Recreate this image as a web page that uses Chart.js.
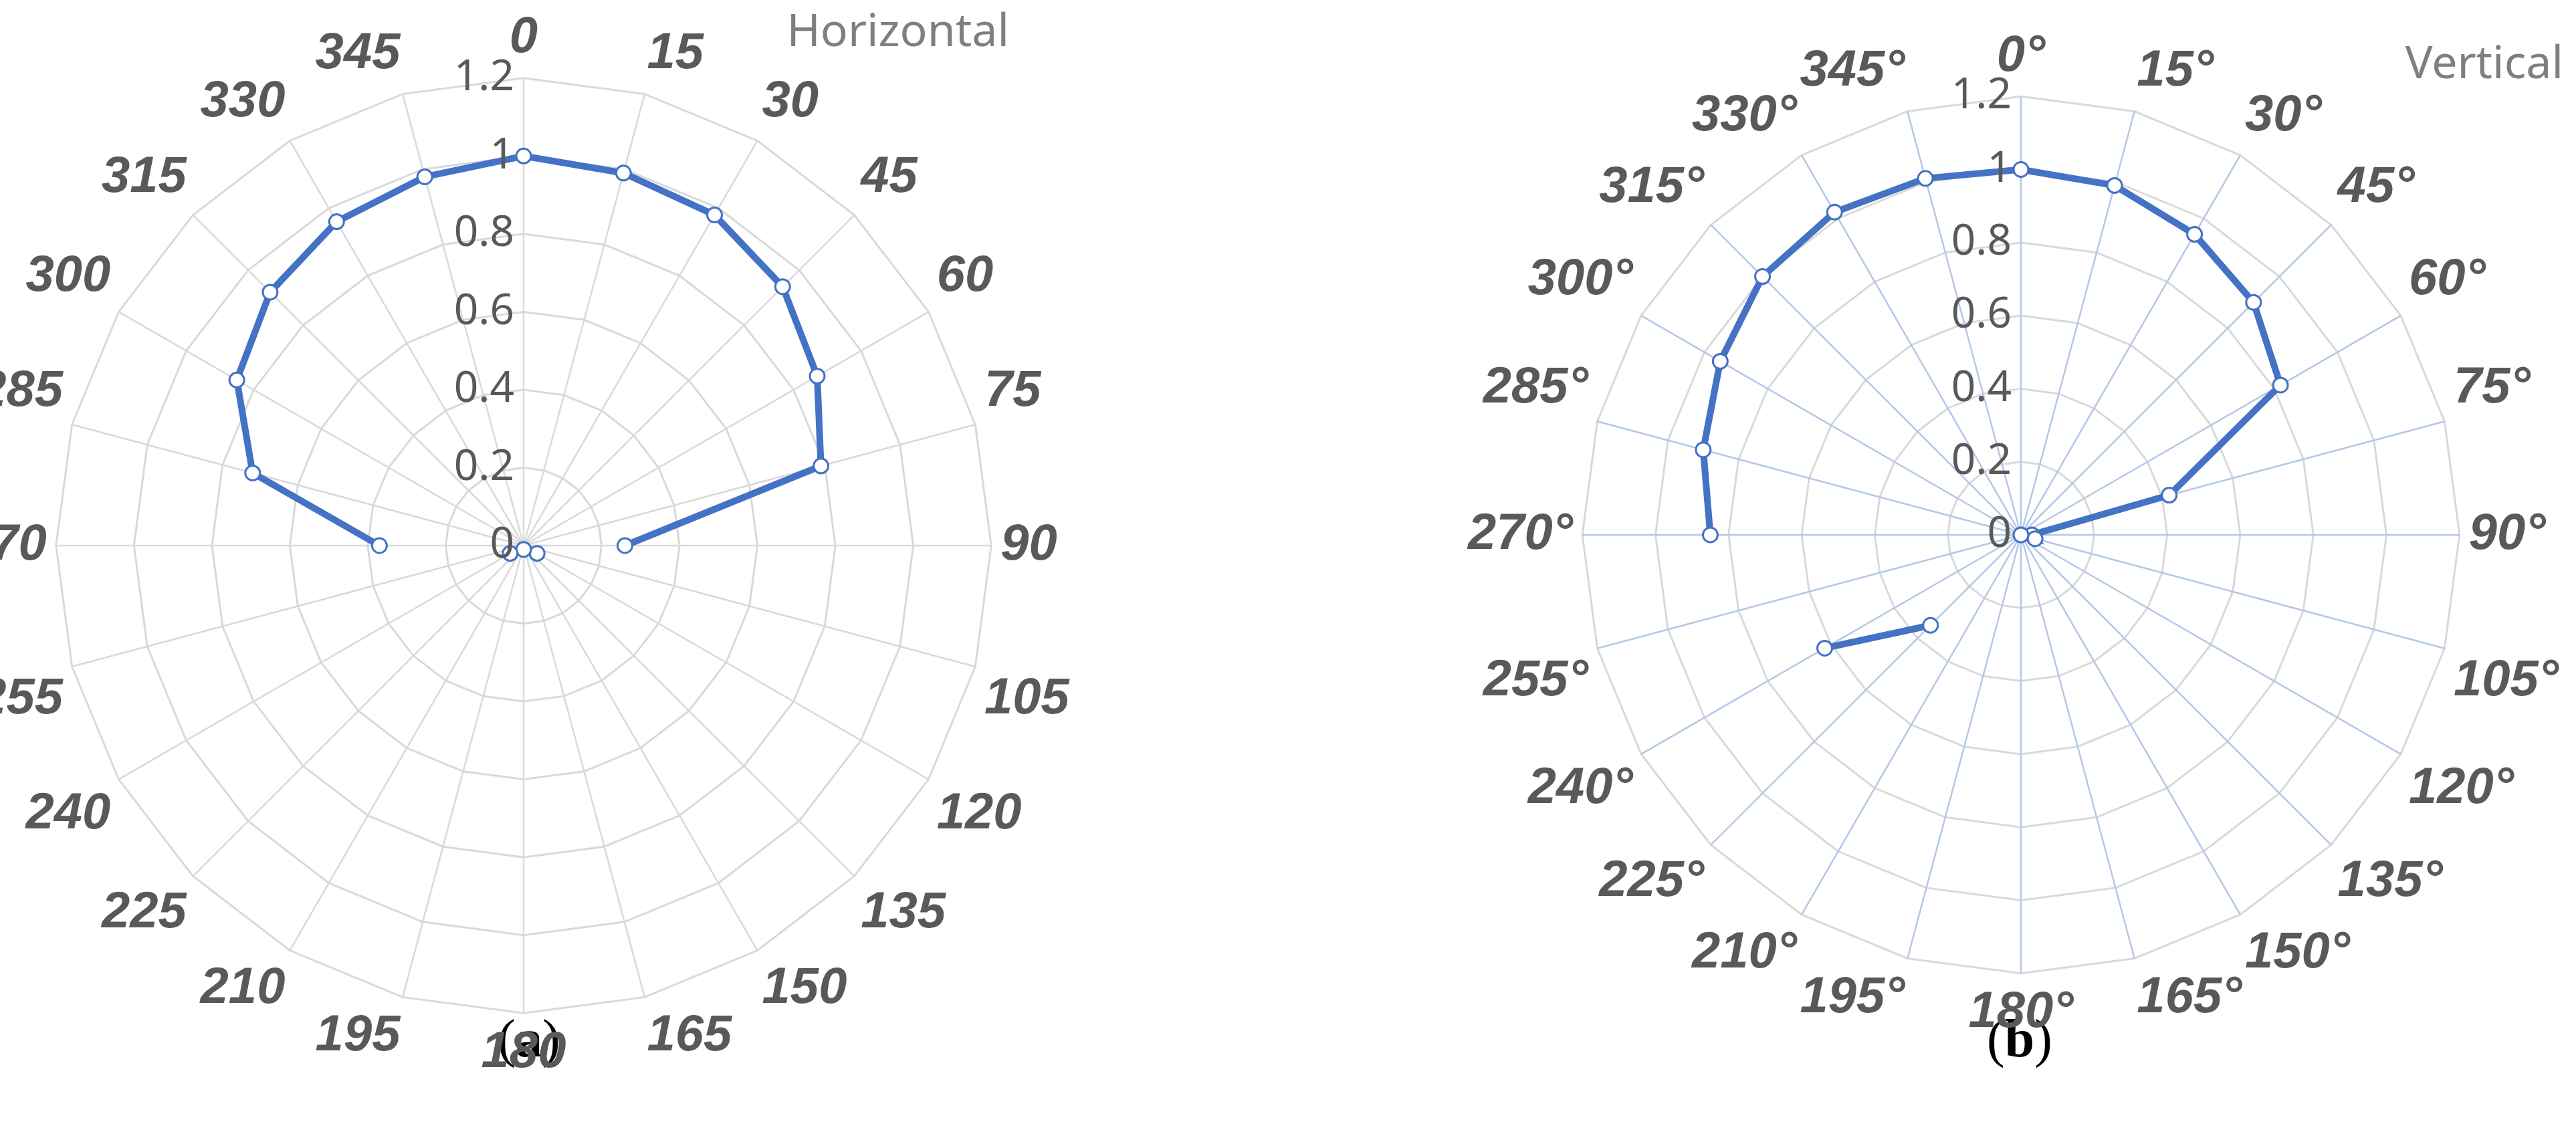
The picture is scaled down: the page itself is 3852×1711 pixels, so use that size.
<!DOCTYPE html>
<html><head><meta charset="utf-8">
<script src="https://cdn.jsdelivr.net/npm/chart.js@4"></script>
<style>
html,body{margin:0;padding:0;background:#fff;width:3852px;height:1711px;overflow:hidden;position:relative}
canvas{position:absolute}
.t{position:absolute;font-family:"Noto Sans",sans-serif;color:#7f7f7f;font-size:68px;white-space:nowrap}
.c{position:absolute;font-family:"Liberation Serif",serif;font-size:80px;color:#000;transform:translateX(-50%)}
</style></head><body>
<div class="t" style="right:2343px;top:-4px">Horizontal</div>
<div class="t" style="right:19px;top:44px">Vertical</div>
<div class="c" style="left:791px;top:1508px">(<b>a</b>)</div>
<div class="c" style="left:3020px;top:1508px">(<b>b</b>)</div>
<div id="wa" style="position:absolute;left:-109px;top:-63px;width:1760px;height:1760px"><canvas id="ca"></canvas></div>
<div id="wb" style="position:absolute;left:2144px;top:-66px;width:1734px;height:1734px"><canvas id="cb"></canvas></div>
<script>
const anglesA = ["0","15","30","45","60","75","90","105","120","135","150","165","180","195","210","225","240","255","270","285","300","315","330","345"];
const anglesB = ["0°","15°","30°","45°","60°","75°","90°","105°","120°","135°","150°","165°","180°","195°","210°","225°","240°","255°","270°","285°","300°","315°","330°","345°"];
const horizontal = [1.0,0.99,0.98,0.94,0.87,0.79,0.26,null,0.04,null,null,null,0.01,null,null,null,0.04,null,0.37,0.72,0.85,0.92,0.96,0.98];
const vertical = [1.0,0.99,0.95,0.90,0.82,0.42,0.03,0.04,0.0,null,null,null,null,null,null,0.35,0.62,null,0.85,0.90,0.95,1.0,1.02,1.01];
const tickValues = [0,0.2,0.4,0.6,0.8,1,1.2];

const tickPlugin = {
  id:'leftTicks',
  afterDraw(chart){
    const s = chart.scales.r, ctx = chart.ctx;
    ctx.save();
    ctx.font = '64px "Noto Sans"';
    ctx.fillStyle = '#595959';
    ctx.textAlign = 'right';
    ctx.textBaseline = 'middle';
    tickValues.forEach(v=>{
      const d = s.getDistanceFromCenterForValue(v);
      ctx.fillText(String(v), s.xCenter-14, s.yCenter-d);
    });
    ctx.restore();
  }
};

function make(id, labels, data, angleColor){
  new Chart(document.getElementById(id), {
    type:'radar',
    data:{labels, datasets:[{data, borderColor:'#4472c4', borderWidth:10, pointRadius:11, pointBorderWidth:3, pointBackgroundColor:'#fff', pointBorderColor:'#4472c4', fill:false, spanGaps:false, tension:0}]},
    options:{
      responsive:true, maintainAspectRatio:false, animation:false,
      layout:{padding:40},
      plugins:{legend:{display:false}, tooltip:{enabled:false}},
      scales:{r:{min:0,max:1.2,beginAtZero:true,
        ticks:{display:false,stepSize:0.2},
        grid:{color:'#d9d9d9',lineWidth:3},
        angleLines:{color:angleColor,lineWidth:2.5},
        pointLabels:{font:{family:'"Liberation Sans"',size:76,style:'italic',weight:'bold'},color:'#595959',padding:14}
      }}
    },
    plugins:[tickPlugin]
  });
}
make('ca', anglesA, horizontal, '#d9d9d9');
make('cb', anglesB, vertical, '#b4c7e7');
</script></body></html>
